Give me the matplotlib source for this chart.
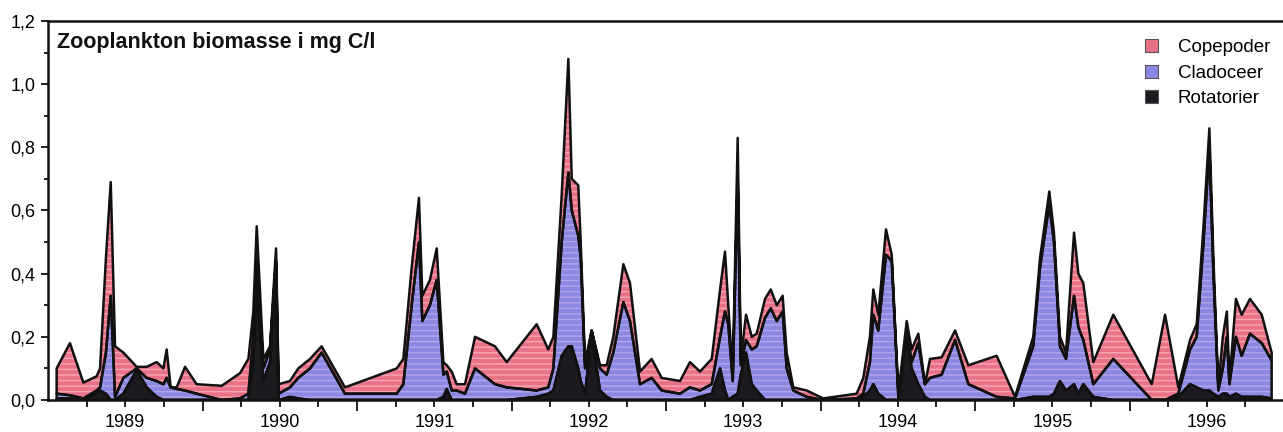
import numpy as np
import matplotlib
matplotlib.use("Agg")
import matplotlib.pyplot as plt
from matplotlib.patches import Patch
from matplotlib.ticker import FixedLocator, MultipleLocator, FuncFormatter, NullFormatter

plt.rcParams['font.family'] = ['Liberation Sans', 'DejaVu Sans']

# sampling dates (decimal years)
dates = [1989.056, 1989.142, 1989.229, 1989.315, 1989.337, 1989.375, 1989.406, 1989.434, 1989.488, 1989.574,
         1989.639, 1989.703, 1989.747, 1989.768, 1989.794, 1989.833, 1989.887, 1989.962, 1990.124, 1990.243,
         1990.297, 1990.329, 1990.351, 1990.394, 1990.437, 1990.476, 1990.493, 1990.566, 1990.620, 1990.696,
         1990.771, 1990.922, 1991.257, 1991.300, 1991.354, 1991.401, 1991.423, 1991.472, 1991.516, 1991.559,
         1991.581, 1991.613, 1991.645, 1991.699, 1991.764, 1991.893, 1991.969, 1992.163, 1992.238, 1992.271,
         1992.325, 1992.368, 1992.390, 1992.432, 1992.448, 1992.476, 1992.519, 1992.573, 1992.616, 1992.659,
         1992.724, 1992.767, 1992.832, 1992.907, 1992.972, 1993.091, 1993.155, 1993.220, 1993.296, 1993.350,
         1993.382, 1993.403, 1993.432, 1993.464, 1993.484, 1993.518, 1993.555, 1993.587, 1993.641, 1993.678,
         1993.717, 1993.755, 1993.781, 1993.824, 1993.911, 1994.018, 1994.234, 1994.277, 1994.320, 1994.342,
         1994.374, 1994.424, 1994.461, 1994.504, 1994.558, 1994.590, 1994.633, 1994.676, 1994.709, 1994.784,
         1994.871, 1994.957, 1995.140, 1995.259, 1995.377, 1995.421, 1995.481, 1995.511, 1995.550, 1995.589,
         1995.641, 1995.669, 1995.701, 1995.766, 1995.895, 1996.144, 1996.230, 1996.316, 1996.392, 1996.435,
         1996.479, 1996.517, 1996.543, 1996.575, 1996.604, 1996.630, 1996.647, 1996.689, 1996.726, 1996.780,
         1996.856, 1996.920]

rotatorier = [.005, .005, 0, .02, .03, .02, 0, 0, .02, .095,
              .04, .01, 0, 0, 0, 0, 0, 0, 0, 0,
              0, .12, .38, .06, .12, .35, 0, .01, .005, 0,
              0, 0, 0, 0, 0, 0, 0, 0, 0, .01,
              .035, 0, 0, 0, 0, 0, 0, .01, .02, .03,
              .14, .17, .17, .10, .06, .02, .21, .03, .01, 0,
              0, 0, 0, 0, 0, 0, 0, .01, .02, .10,
              .03, 0, .01, .02, .08, .15, .05, .03, 0, 0,
              0, 0, 0, 0, 0, 0, 0, .01, .03, .05,
              .02, 0, 0, 0, .20, .10, .05, .01, 0, 0,
              0, 0, 0, 0, .01, .01, .01, .02, .06, .03,
              .05, .02, .05, .01, 0, 0, 0, .01, .05, .04,
              .03, .03, .02, .01, .02, .02, .01, .02, .01, .01,
              .01, .005]

cladoceer = [.015, .01, .005, .01, .01, .13, .33, .01, .05, .005,
             .03, .05, .05, .07, .04, .035, .03, .02, 0, .005,
             .02, .08, .07, .04, .04, .09, .02, .03, .065, .10,
             .15, .02, .02, .05, .30, .50, .25, .30, .38, .07,
             .055, .03, .03, .02, .10, .05, .04, .02, .02, .07,
             .36, .55, .43, .42, .39, .08, .01, .07, .07, .15,
             .31, .25, .05, .07, .03, .02, .04, .02, .03, .10,
             .25, .24, .05, .68, .03, .04, .11, .14, .26, .29,
             .25, .28, .10, .03, .01, 0, .005, .01, .09, .22,
             .20, .46, .44, .01, .02, .02, .13, .04, .07, .08,
             .19, .05, .01, .005, .16, .41, .61, .48, .11, .10,
             .28, .21, .14, .04, .13, 0, 0, .01, .11, .16,
             .47, .77, .38, .02, .08, .18, .04, .18, .13, .20,
             .17, .12]

copepoder = [.08, .165, .05, .045, .06, .30, .36, .16, .08, .005,
             .035, .06, .05, .09, 0, .005, .075, .03, .045, .08,
             .11, .08, .10, .03, .01, .04, .03, .02, .03, .03,
             .02, .02, .08, .08, .12, .14, .08, .08, .10, .04,
             .02, .06, .02, .03, .10, .12, .08, .21, .12, .10,
             .15, .36, .10, .16, .05, .02, 0, .01, .03, .05,
             .12, .12, .04, .06, .04, .04, .08, .06, .08, .15,
             .19, .06, .02, .13, .02, .08, .04, .04, .06, .06,
             .05, .05, .05, .01, .02, .005, .015, .05, .08, .08,
             .05, .08, .02, .01, .03, .04, .03, 0, .06, .055,
             .03, .06, .13, .005, .03, .03, .04, .03, .03, .02,
             .20, .17, .18, .07, .14, .05, .27, .02, .03, .04,
             .05, .06, .05, .01, .10, .08, .01, .12, .13, .11,
             .09, .025]

series_names = ["Copepoder", "Cladoceer", "Rotatorier"]
year_labels = ["1989", "1990", "1991", "1992", "1993", "1994", "1995", "1996"]
title = "Zooplankton biomasse i mg C/l"

col_cop = "#ea7288"
col_cla = "#8a88e0"
col_rot = "#1c1a1e"
hatch_cop = "#f6a8b0"
hatch_cla = "#b4a6ee"

x = np.array(dates)
r = np.array(rotatorier)
c = np.array(cladoceer)
p = np.array(copepoder)
l1 = r
l2 = r + c
l3 = r + c + p

fig = plt.figure(figsize=(12.83, 4.32), dpi=100)
ax = fig.add_axes([48 / 1283, 32 / 432, 1236 / 1283, 379 / 432])

# fills
ax.fill_between(x, 0, l1, facecolor=col_rot, linewidth=0, zorder=1)
ax.fill_between(x, l1, l2, facecolor=col_cla, linewidth=0, zorder=1)
ax.fill_between(x, l2, l3, facecolor=col_cop, linewidth=0, zorder=1)
# scan-like texture
ax.fill_between(x, l1, l2, facecolor="none", edgecolor=hatch_cla, hatch="---", linewidth=0, zorder=2)
ax.fill_between(x, l2, l3, facecolor="none", edgecolor=hatch_cop, hatch="---", linewidth=0, zorder=2)
# outlines
for lo, hi in [(0, l1), (l1, l2), (l2, l3)]:
    ax.fill_between(x, lo, hi, facecolor="none", edgecolor="#111111", linewidth=1.8, zorder=3)

ax.set_xlim(1989, 1997)
ax.set_ylim(0, 1.2)

ax.spines['right'].set_visible(False)
for s in ['left', 'bottom', 'top']:
    ax.spines[s].set_linewidth(1.8)
    ax.spines[s].set_color("#111111")

ax.yaxis.set_major_locator(MultipleLocator(0.2))
ax.yaxis.set_minor_locator(MultipleLocator(0.1))
ax.yaxis.set_major_formatter(FuncFormatter(lambda v, pos: f"{v:.1f}".replace('.', ',')))

# year boundaries: long ticks; quarters: short ticks, year labels at mid-year
ax.xaxis.set_major_locator(FixedLocator([1989 + i for i in range(1, 9)]))
ax.xaxis.set_major_formatter(NullFormatter())
ax.xaxis.set_minor_locator(FixedLocator([1989 + 0.25 * k for k in range(33) if k % 4 != 0]))


def year_fmt(v, pos):
    frac = v - np.floor(v)
    if abs(frac - 0.5) < 1e-6:
        idx = int(np.floor(v)) - 1989
        if 0 <= idx < len(year_labels):
            return year_labels[idx]
    return ""


ax.xaxis.set_minor_formatter(FuncFormatter(year_fmt))

ax.tick_params(axis='both', which='both', direction='out', color="#111111", width=1.3)
ax.tick_params(axis='y', which='major', length=5, labelsize=13, pad=4)
ax.tick_params(axis='y', which='minor', length=3)
ax.tick_params(axis='x', which='major', length=8)
ax.tick_params(axis='x', which='minor', length=5, labelsize=13, pad=5)

ax.text(0.0075, 0.942, title, transform=ax.transAxes, fontsize=15.5, fontweight='bold',
        va='center', ha='left', color="#111111")

handles = [Patch(facecolor=col_cop, edgecolor="#555555", linewidth=0.8),
           Patch(facecolor=col_cla, edgecolor="#555555", linewidth=0.8),
           Patch(facecolor=col_rot, edgecolor="#555555", linewidth=0.8)]
fig.legend(handles, series_names, loc='upper left', bbox_to_anchor=(1145 / 1283, 1 - 39 / 432),
           frameon=False, fontsize=13.5, handlelength=0.7, handleheight=0.7,
           handletextpad=1.05, labelspacing=0.45, borderaxespad=0, borderpad=0)

fig.savefig("out.png", dpi=100)
